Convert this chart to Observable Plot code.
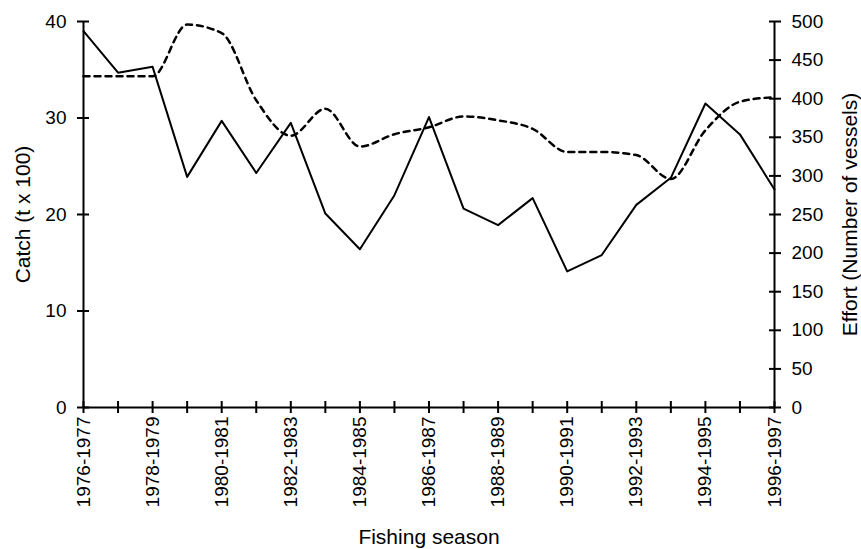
<!DOCTYPE html>
<html>
<head>
<meta charset="utf-8">
<script src="https://cdn.jsdelivr.net/npm/d3@7"></script>
<script src="https://cdn.jsdelivr.net/npm/@observablehq/plot@0.6"></script>
<style>
  body { margin: 0; background: #fff; }
  #chart g[aria-label$="axis label"], #chart g[aria-label$="axis label"] text { font-size: 21px; }
</style>
</head>
<body>
<div id="chart"></div>
<script>
const seasons = ["1976-1977","1977-1978","1978-1979","1979-1980","1980-1981","1981-1982","1982-1983","1983-1984","1984-1985","1985-1986","1986-1987","1987-1988","1988-1989","1989-1990","1990-1991","1991-1992","1992-1993","1993-1994","1994-1995","1995-1996","1996-1997"];
const catchValues = [39.0, 34.7, 35.3, 23.9, 29.7, 24.3, 29.5, 20.1, 16.4, 22.0, 30.1, 20.6, 18.9, 21.7, 14.1, 15.8, 21.0, 23.8, 31.5, 28.3, 22.6];
const effortValues = [429, 429, 429, 496, 485, 398, 352, 387, 338, 354, 363, 377, 372, 361, 331, 331, 327, 296, 359, 396, 402];
const tickLabels = ["1976-1977","1978-1979","1980-1981","1982-1983","1984-1985","1986-1987","1988-1989","1990-1991","1992-1993","1994-1995","1996-1997"];
const catchTicks = [0, 10, 20, 30, 40];
const effortTicks = [0, 50, 100, 150, 200, 250, 300, 350, 400, 450, 500];

const k = 40 / 500; // effort -> catch units (secondary axis)
const rows = seasons.map((s, i) => ({season: s, catchV: catchValues[i], effortScaled: effortValues[i] * k}));

const chart = Plot.plot({
  width: 861,
  height: 549,
  marginTop: 21,
  marginLeft: 83,
  marginRight: 87,
  marginBottom: 142,
  style: {fontFamily: '"Liberation Sans", Arial, sans-serif', fontSize: "19px", color: "#000", background: "#fff", overflow: "visible"},
  x: {type: "point", domain: seasons, padding: 0, round: false},
  y: {domain: [0, 40]},
  marks: [
    Plot.line(rows, {x: "season", y: "effortScaled", curve: "monotone-x", stroke: "#000", strokeWidth: 2.5, strokeDasharray: "6,5"}),
    Plot.line(rows, {x: "season", y: "catchV", stroke: "#000", strokeWidth: 2}),
    Plot.ruleY([0], {stroke: "#000", strokeWidth: 2}),
    Plot.ruleX([seasons[0], seasons[seasons.length - 1]], {stroke: "#000", strokeWidth: 2}),
    Plot.axisX(seasons, {tickSize: 12, dy: -6, tickFormat: () => "", strokeWidth: 2, label: null}),
    Plot.axisX(tickLabels, {tickSize: 0, tickPadding: 9, tickRotate: -90, label: "Fishing season", labelAnchor: "center", labelOffset: 136, labelArrow: false}),
    Plot.axisY(catchTicks, {anchor: "left", tickSize: 12, dx: 6, tickFormat: () => "", strokeWidth: 2, label: null}),
    Plot.axisY(catchTicks, {anchor: "left", tickSize: 0, tickPadding: 17, label: "Catch (t x 100)", labelAnchor: "center", labelOffset: 68, labelArrow: false}),
    Plot.axisY(effortTicks.map(e => e * k), {anchor: "right", tickSize: 12, dx: -6, tickFormat: () => "", strokeWidth: 2, label: null}),
    Plot.axisY(effortTicks.map(e => e * k), {anchor: "right", tickSize: 0, tickPadding: 17, tickFormat: d => String(Math.round(d / k)), label: "Effort (Number of vessels)", labelAnchor: "center", labelOffset: 82, labelArrow: false})
  ]
});
document.getElementById("chart").appendChild(chart);
</script>
</body>
</html>
